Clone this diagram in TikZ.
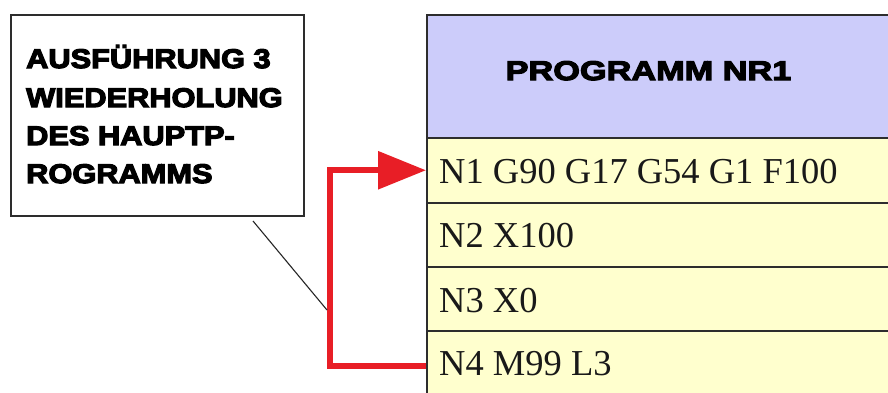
\documentclass[tikz,border=0pt]{standalone}
\usepackage{fontspec}
\setmainfont{Liberation Serif}
\newfontfamily\notefont[FakeStretch=1.14,FakeBold=4.5]{Liberation Sans Bold}
\newfontfamily\headfont[FakeStretch=1.27,FakeBold=4.5]{Liberation Sans Bold}
\usetikzlibrary{arrows.meta,calc}
\definecolor{headblue}{RGB}{204,204,250}
\definecolor{rowyellow}{RGB}{255,255,206}
\definecolor{loopred}{RGB}{232,30,38}
\definecolor{frame}{RGB}{45,45,45}
\tikzset{
  notebox/.style={draw=frame, line width=2pt, fill=white, inner sep=0pt},
  noteline/.style={anchor=base west, inner sep=0pt, font=\notefont\fontsize{27}{30}\selectfont},
  headcell/.style={draw=frame, line width=1.5pt, fill=headblue, inner sep=0pt},
  rowcell/.style={draw=frame, line width=1.5pt, fill=rowyellow, inner sep=0pt},
  rowtext/.style={anchor=base west, inner sep=0pt, font=\fontsize{36.5}{40}\selectfont, text=black!90},
  loop/.style={draw=loopred, line width=6pt},
  pointer/.style={draw=black!85, line width=1.1pt}
}
\begin{document}
\begin{tikzpicture}[x=1pt, y=-1pt]
  \clip (0,0) rectangle (888,392);
  \fill[white] (0,0) rectangle (888,392);

  % program table (runs past the right and bottom edges)
  \node[headcell, minimum width=480pt, minimum height=123pt, anchor=north west] (head) at (426,14) {};
  \node[anchor=base, inner sep=0pt, font=\headfont\fontsize{27}{30}\selectfont] (title) at (648.5,80) {PROGRAMM NR1};
  \node[rowcell, minimum width=480pt, minimum height=65pt, anchor=north west] (r1) at (426,137) {};
  \node[rowcell, minimum width=480pt, minimum height=64pt, anchor=north west] (r2) at (426,202) {};
  \node[rowcell, minimum width=480pt, minimum height=64pt, anchor=north west] (r3) at (426,266) {};
  \node[rowcell, minimum width=480pt, minimum height=70pt, anchor=north west] (r4) at (426,330) {};
  \node[rowtext] (t1) at (439,183) {N1 G90 G17 G54 G1 F100};
  \node[rowtext] (t2) at (439,247) {N2 X100};
  \node[rowtext] (t3) at (439,312) {N3 X0};
  \node[rowtext] (t4) at (439,375) {N4 M99 L3};

  % jump back from N4 to N1
  \draw[loop, -{Triangle[length=48pt,width=37pt]}]
    (r4.west) -- ++(-96,0) coordinate (bend) |- (r1.west);

  % note box
  \node[notebox, minimum width=293pt, minimum height=201pt, anchor=north west] (note) at (10,14) {};
  \node[noteline] (n1) at (26,68) {AUSFÜHRUNG 3};
  \node[noteline] (n2) at (26,107) {WIEDERHOLUNG};
  \node[noteline] (n3) at (26,145) {DES HAUPTP-};
  \node[noteline] (n4) at (26,183) {ROGRAMMS};

  % pointer from the note to the loop
  \coordinate (hit) at (327,310);
  \draw[pointer] ([xshift=95.5pt,yshift=-4pt]note.south) -- (hit);
\end{tikzpicture}
\end{document}
